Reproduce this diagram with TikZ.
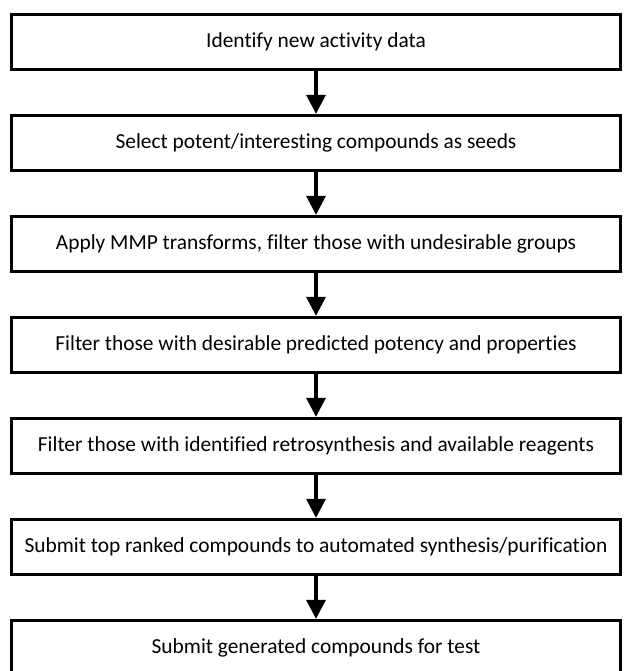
\documentclass[tikz,border=0pt]{standalone}
\usepackage{fontspec}
\setmainfont{Carlito}[Ligatures={NoCommon}]
\usetikzlibrary{arrows.meta}

\begin{document}
\begin{tikzpicture}[x=1pt, y=-1pt, font={\fontsize{21.4}{25}\selectfont},
every node/.style={draw, line width=3.3pt, rectangle, fill=white, minimum width=609pt,
minimum height=55pt, inner sep=0pt}]

\useasboundingbox (0,0) rectangle (623,671);

\path
(316,42) node (s1) {Identify new activity data}
-- ++(0,101) node (s2) {Select potent/interesting compounds as seeds}
-- ++(0,101) node (s3) {Apply MMP transforms, filter those with undesirable groups}
-- ++(0,101) node (s4) {Filter those with desirable predicted potency and properties}
-- ++(0,101) node (s5) {Filter those with identified retrosynthesis and available reagents}
-- ++(0,101) node (s6) {Submit top ranked compounds to automated synthesis/purification}
-- ++(0,101) node (s7) {Submit generated compounds for test}
;

% workflow steps
\begin{scope}[line width=3.3pt, -{Triangle[width=19pt, length=19pt]}]

\draw (s1) -- (s2);
\draw (s2) -- (s3);
\draw (s3) -- (s4);
\draw (s4) -- (s5);
\draw (s5) -- (s6);
\draw (s6) -- (s7);

\end{scope}

\end{tikzpicture}
\end{document}
